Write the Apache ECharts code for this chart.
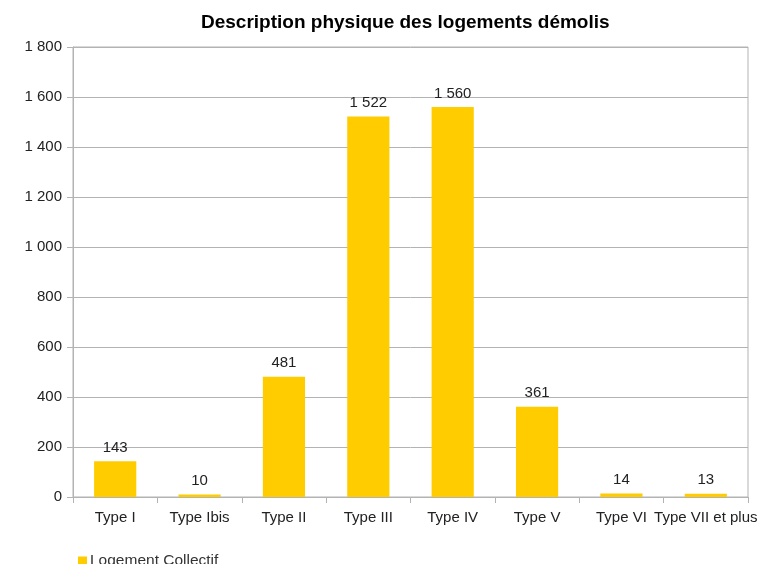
<!DOCTYPE html>
<html>
<head>
<meta charset="utf-8">
<script src="https://cdn.jsdelivr.net/npm/echarts@6/dist/echarts.min.js"></script>
<style>
html, body { margin: 0; padding: 0; background: #fff; }
#chart { width: 762px; height: 564px; }
</style>
</head>
<body>
<div id="chart"></div>
<script>
var categories = ['Type I', 'Type Ibis', 'Type II', 'Type III', 'Type IV', 'Type V', 'Type VI', 'Type VII et plus'];
var collectif = [143, 10, 481, 1522, 1560, 361, 14, 13];
var seriesName = 'Logement Collectif';

function fmt(v) {
    return String(v).replace(/\B(?=(\d{3})+(?!\d))/g, ' ');
}

var chart = echarts.init(document.getElementById('chart'));
chart.setOption({
    animation: false,
    textStyle: { fontFamily: 'Liberation Sans, Arial, sans-serif' },
    title: {
        text: 'Description physique des logements démolis',
        left: 196,
        top: 8,
        textStyle: { fontSize: 19, fontWeight: 'bold', color: '#000' }
    },
    grid: {
        left: 73, right: 14, top: 47, bottom: 67,
        show: true, borderColor: '#b3b3b3', borderWidth: 1
    },
    legend: {
        left: 78, top: 553, padding: 0,
        itemWidth: 9, itemHeight: 9, itemGap: 4,
        icon: 'rect',
        textStyle: { fontSize: 15.5, color: '#333', padding: [0, 0, 0, -2] },
        data: [seriesName]
    },
    xAxis: {
        type: 'category',
        data: categories,
        axisLine: { lineStyle: { color: '#b3b3b3' } },
        axisTick: { show: true, length: 6, lineStyle: { color: '#b3b3b3' } },
        axisLabel: { color: '#222', fontSize: 15, margin: 13, interval: 0 }
    },
    yAxis: {
        type: 'value',
        min: 0, max: 1800, interval: 200,
        axisLine: { show: true, lineStyle: { color: '#b3b3b3' } },
        axisTick: { show: true, length: 6, lineStyle: { color: '#b3b3b3' } },
        splitLine: { lineStyle: { color: '#b3b3b3' } },
        axisLabel: { color: '#222', fontSize: 15, margin: 11, formatter: fmt }
    },
    series: [{
        name: seriesName,
        type: 'bar',
        data: collectif,
        barWidth: '50%',
        itemStyle: { color: '#ffcc00' },
        label: {
            show: true, position: 'top', distance: 6,
            color: '#222', fontSize: 15,
            formatter: function (p) { return fmt(p.value); }
        }
    }]
});
</script>
</body>
</html>
